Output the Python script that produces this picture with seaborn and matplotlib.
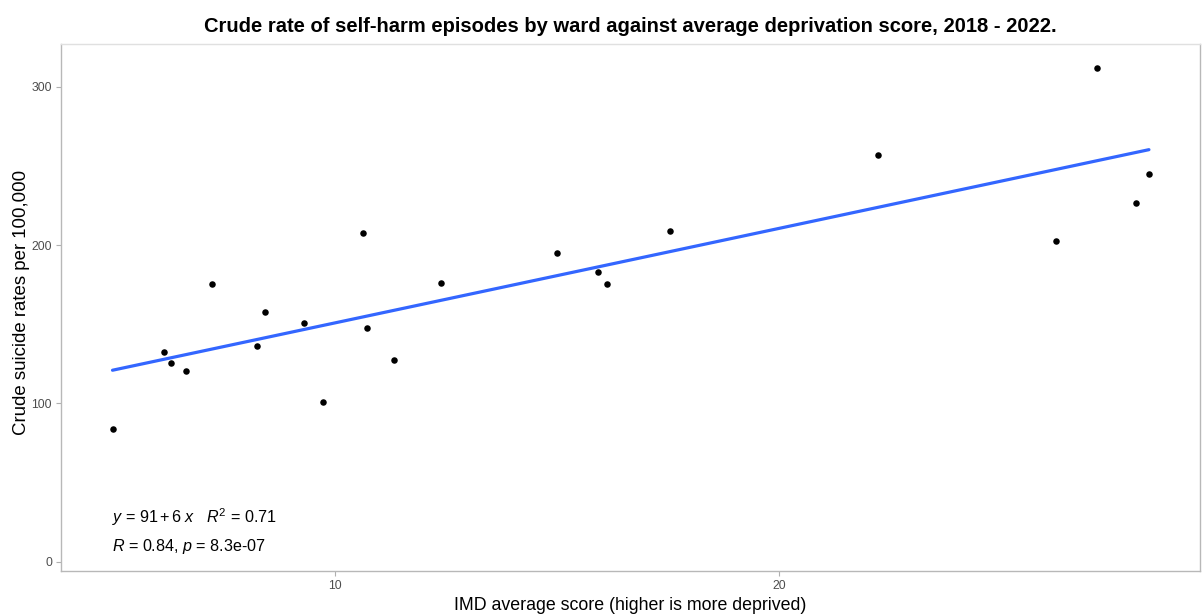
import matplotlib
matplotlib.use("Agg")
import matplotlib.pyplot as plt
import seaborn as sns
import pandas as pd

# Ward-level IMD average score vs crude rate per 100,000
imd_score = [4.98, 6.14, 6.29, 6.64, 7.21, 8.23, 8.41, 9.29, 9.73, 10.63, 10.70,
             11.33, 12.37, 14.98, 15.92, 16.12, 17.53, 22.23, 26.23, 27.15, 28.04, 28.32]
crude_rate = [83.6, 132.4, 125.7, 120.4, 175.6, 136.4, 157.5, 151.0, 100.7, 207.8, 147.8,
              127.6, 176.0, 195.0, 183.2, 175.2, 209.0, 256.7, 202.5, 311.8, 226.7, 245.0]

x_ticks = [10, 20]
y_ticks = [0, 100, 200, 300]

title = "Crude rate of self-harm episodes by ward against average deprivation score, 2018 - 2022."
x_label = "IMD average score (higher is more deprived)"
y_label = "Crude suicide rates per 100,000"
eq_label = r"$\it{y}$ = 91$\,$+$\,$6 $\it{x}$   $\it{R}^{2}$ = 0.71"
stat_label = r"$\it{R}$ = 0.84, $\it{p}$ = 8.3e-07"

df = pd.DataFrame({"imd": imd_score, "rate": crude_rate})

sns.set_theme(style="white")
plt.rcParams["font.family"] = ["Liberation Sans", "DejaVu Sans"]
plt.rcParams["mathtext.fontset"] = "custom"
plt.rcParams["mathtext.rm"] = "Liberation Sans"
plt.rcParams["mathtext.it"] = "Liberation Sans:italic"
plt.rcParams["mathtext.bf"] = "Liberation Sans:bold"

fig = plt.figure(figsize=(12.03, 6.15), dpi=100)
ax = fig.add_axes([0.0507, 0.072, 0.9468, 0.856])

sns.regplot(data=df, x="imd", y="rate", ax=ax, ci=None,
            scatter_kws=dict(color="black", s=22, alpha=1, linewidths=0, zorder=3),
            line_kws=dict(color="#3366FF", lw=2.3, zorder=2))

ax.set_xlim(3.82, 29.47)
ax.set_ylim(-5.7, 326.8)
ax.set_xticks(x_ticks)
ax.set_yticks(y_ticks)

ax.tick_params(axis="both", which="both", length=3.5, width=0.8, color="#B0B0B0",
               labelcolor="#4D4D4D", labelsize=8.8, direction="out", pad=3,
               bottom=True, left=True)

for side in ["left", "bottom", "right"]:
    ax.spines[side].set_color("#B8B8B8")
    ax.spines[side].set_linewidth(1.0)
ax.spines["top"].set_color("#E0E0E0")
ax.spines["top"].set_linewidth(1.0)

ax.set_xlabel(x_label, fontsize=12.8, color="black")
ax.set_ylabel(y_label, fontsize=13.4, color="black")
ax.xaxis.set_label_coords(0.5, -0.049)
ax.yaxis.set_label_coords(-0.027, 0.51)
ax.set_title(title, fontsize=14.5, fontweight="bold", color="black", pad=9)

ax.text(4.96, 28, eq_label, fontsize=11.6, ha="left", va="center", color="black")
ax.text(4.96, 9.5, stat_label, fontsize=11.6, ha="left", va="center", color="black")

fig.savefig("out.png", dpi=100, facecolor="white")
